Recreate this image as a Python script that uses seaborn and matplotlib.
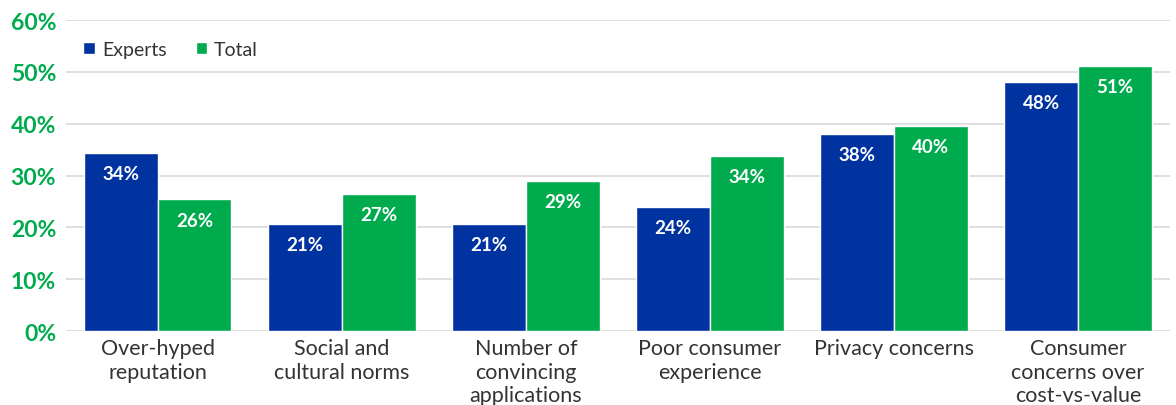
import seaborn as sns
from matplotlib import pyplot as plt
import pandas as pd

categories = ["Over-hyped\nreputation", "Social and\ncultural norms", "Number of\nconvincing\napplications",
              "Poor consumer\nexperience", "Privacy concerns", "Consumer\nconcerns over\ncost-vs-value"]
experts = [34.4, 20.6, 20.6, 24.0, 38.0, 48.1]
total = [25.4, 26.5, 28.9, 33.8, 39.6, 51.2]
experts_labels = ["34%", "21%", "21%", "24%", "38%", "48%"]
total_labels = ["26%", "27%", "29%", "34%", "40%", "51%"]
yticks = [0, 10, 20, 30, 40, 50, 60]

BLUE = "#0033a0"
GREEN = "#00ab4e"

df = pd.DataFrame({
    "category": categories * 2,
    "value": experts + total,
    "series": ["Experts"] * len(categories) + ["Total"] * len(categories),
})

sns.set_style("white")
plt.rcParams["font.family"] = ["Lato", "DejaVu Sans"]

fig, ax = plt.subplots(figsize=(11.76, 4.06), dpi=100)
sns.barplot(data=df, x="category", y="value", hue="series", palette=[BLUE, GREEN],
            width=0.8, saturation=1, ax=ax, zorder=3)

# value labels inside the top of each bar
for container, labels in zip(ax.containers, [experts_labels, total_labels]):
    ax.bar_label(container, labels=labels, padding=-21, color="white",
                 fontsize=13.5, fontweight="bold")

ax.set_ylim(0, 60)
ax.set_xlim(-0.5, 5.5)
ax.set_yticks(yticks)
ax.set_yticklabels([f"{t}%" for t in yticks], color=GREEN, fontsize=16.5, fontweight="bold")
for lbl in ax.get_xticklabels():
    lbl.set_linespacing(1.22)
ax.tick_params(axis="x", labelsize=15.5, colors="#333333", length=0, pad=5)
ax.tick_params(axis="y", length=0, pad=7)
ax.yaxis.grid(True, color="#d9d9d9", linewidth=1.2, zorder=0)
ax.set_xlabel("")
ax.set_ylabel("")
for s in ax.spines.values():
    s.set_visible(False)

handles, labels = ax.get_legend_handles_labels()
ax.legend(handles, labels, loc="upper left", bbox_to_anchor=(0.0, 0.99), ncol=2, frameon=False,
          fontsize=14, handlelength=0.6, handleheight=0.6, handletextpad=0.35,
          columnspacing=1.5, labelcolor="#333333")

plt.subplots_adjust(left=0.056, right=0.995, top=0.948, bottom=0.182)
plt.savefig("out.png", dpi=100)
